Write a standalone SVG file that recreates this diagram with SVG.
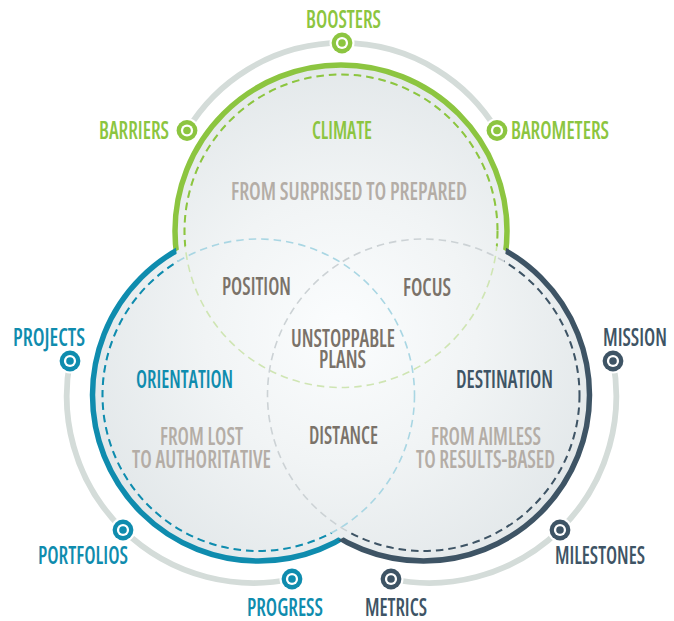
<svg xmlns="http://www.w3.org/2000/svg" xmlns:xlink="http://www.w3.org/1999/xlink" width="674" height="621" viewBox="0 0 674 621">
  <style>
    .t{font-family:"Open Sans","Liberation Sans",Arial,sans-serif;font-size:24.5px;font-weight:600;font-stretch:condensed}
    .g{fill:#8cc540}
    .b{fill:#0f8cae}
    .d{fill:#3e5465}
    .c{fill:#7a7269}
    .s{fill:#b4ada6}
    .rim{fill:none;stroke-width:5.5}
    .dash{fill:none;stroke-width:2;stroke-dasharray:7.5 5}
    .faint{fill:none;stroke-width:1.6;stroke-dasharray:7.5 5}
    .track{fill:none;stroke:#d4dcd9;stroke-width:5.8}
  </style>
  <defs>
    <radialGradient id="wash" gradientUnits="userSpaceOnUse" cx="341" cy="330" r="270">
      <stop offset="0" stop-color="#fbfdfe"/>
      <stop offset="0.5" stop-color="#f1f4f5"/>
      <stop offset="1" stop-color="#e3e8ea"/>
    </radialGradient>
    <!-- each mask keeps only the part of a ring lying outside the other two discs -->
    <mask id="only-climate" maskUnits="userSpaceOnUse" x="0" y="0" width="674" height="621">
      <rect width="674" height="621" fill="#fff"/>
      <circle cx="258.5" cy="395" r="166" fill="#000"/>
      <circle cx="423.5" cy="395" r="166" fill="#000"/>
    </mask>
    <mask id="only-orientation" maskUnits="userSpaceOnUse" x="0" y="0" width="674" height="621">
      <rect width="674" height="621" fill="#fff"/>
      <circle cx="341" cy="231" r="166" fill="#000"/>
      <circle cx="423.5" cy="395" r="166" fill="#000"/>
    </mask>
    <mask id="only-destination" maskUnits="userSpaceOnUse" x="0" y="0" width="674" height="621">
      <rect width="674" height="621" fill="#fff"/>
      <circle cx="341" cy="231" r="166" fill="#000"/>
      <circle cx="258.5" cy="395" r="166" fill="#000"/>
    </mask>
    <symbol id="pin" overflow="visible">
      <circle r="12.5" fill="#fff"/>
      <circle r="10.4" fill="currentColor"/>
      <circle r="6.1" fill="#fff"/>
      <circle r="3.8" fill="currentColor"/>
    </symbol>
  </defs>

  <!-- soft wash behind the three sets -->
  <g id="wash-fill" fill="url(#wash)">
    <circle cx="341" cy="231" r="166"/>
    <circle cx="258.5" cy="395" r="166"/>
    <circle cx="423.5" cy="395" r="166"/>
  </g>

  <!-- outer tracks linking the markers of each set -->
  <g id="connectors">
    <path class="track" d="M187 130.5 A181 181 0 0 1 497 130.5"/>
    <path class="track" d="M70 361 A187 187 0 0 0 292 579"/>
    <path class="track" d="M613 361 A187 187 0 0 1 391 579"/>
  </g>

  <!-- inner dashed rings: pale where they cross another set -->
  <g id="inner-rings">
    <circle class="faint" cx="341" cy="231" r="156.5" stroke="#cfe5b3"/>
    <circle class="faint" cx="258.5" cy="395" r="156" stroke="#a9d6e3"/>
    <circle class="faint" cx="423.5" cy="395" r="156" stroke="#ccd2d5"/>
    <circle class="dash" cx="341" cy="231" r="156.5" stroke="#8cc540" mask="url(#only-climate)"/>
    <circle class="dash" cx="258.5" cy="395" r="156" stroke="#0f8cae" mask="url(#only-orientation)"/>
    <circle class="dash" cx="423.5" cy="395" r="156" stroke="#3e5465" mask="url(#only-destination)"/>
  </g>

  <g id="climate">
    <circle class="rim" cx="341" cy="231" r="166" stroke="#8cc540" mask="url(#only-climate)"/>
    <text class="t g" x="312" y="139" textLength="60" lengthAdjust="spacingAndGlyphs">CLIMATE</text>
    <text class="t s" x="231" y="200" textLength="236" lengthAdjust="spacingAndGlyphs">FROM SURPRISED TO PREPARED</text>
  </g>

  <g id="orientation">
    <circle class="rim" cx="258.5" cy="395" r="166" stroke="#0f8cae" mask="url(#only-orientation)"/>
    <text class="t b" x="136" y="388" textLength="97" lengthAdjust="spacingAndGlyphs">ORIENTATION</text>
    <text class="t s" x="160" y="445" textLength="83" lengthAdjust="spacingAndGlyphs">FROM LOST</text>
    <text class="t s" x="132" y="468" textLength="139" lengthAdjust="spacingAndGlyphs">TO AUTHORITATIVE</text>
  </g>

  <g id="destination">
    <circle class="rim" cx="423.5" cy="395" r="166" stroke="#3e5465" mask="url(#only-destination)"/>
    <text class="t d" x="456" y="388" textLength="97" lengthAdjust="spacingAndGlyphs">DESTINATION</text>
    <text class="t s" x="431" y="445" textLength="110" lengthAdjust="spacingAndGlyphs">FROM AIMLESS</text>
    <text class="t s" x="416" y="468" textLength="139" lengthAdjust="spacingAndGlyphs">TO RESULTS-BASED</text>
  </g>

  <!-- overlap labels -->
  <g id="position"><text class="t c" x="222" y="295" textLength="69" lengthAdjust="spacingAndGlyphs">POSITION</text></g>
  <g id="focus"><text class="t c" x="403" y="296" textLength="48" lengthAdjust="spacingAndGlyphs">FOCUS</text></g>
  <g id="distance"><text class="t c" x="309" y="444" textLength="69" lengthAdjust="spacingAndGlyphs">DISTANCE</text></g>
  <g id="unstoppable-plans">
    <text class="t c" x="291" y="347" textLength="104" lengthAdjust="spacingAndGlyphs">UNSTOPPABLE</text>
    <text class="t c" x="319" y="368" textLength="47" lengthAdjust="spacingAndGlyphs">PLANS</text>
  </g>

  <!-- markers on the tracks -->
  <g id="boosters" color="#8cc540">
    <use href="#pin" x="342" y="43"/>
    <text class="t g" x="306" y="28" textLength="75" lengthAdjust="spacingAndGlyphs">BOOSTERS</text>
  </g>
  <g id="barriers" color="#8cc540">
    <use href="#pin" x="187" y="130.5"/>
    <text class="t g" x="99" y="139" textLength="70" lengthAdjust="spacingAndGlyphs">BARRIERS</text>
  </g>
  <g id="barometers" color="#8cc540">
    <use href="#pin" x="497" y="130.5"/>
    <text class="t g" x="511" y="139" textLength="98" lengthAdjust="spacingAndGlyphs">BAROMETERS</text>
  </g>
  <g id="projects" color="#0f8cae">
    <use href="#pin" x="70" y="361"/>
    <text class="t b" x="13" y="346" textLength="72" lengthAdjust="spacingAndGlyphs">PROJECTS</text>
  </g>
  <g id="portfolios" color="#0f8cae">
    <use href="#pin" x="123" y="530"/>
    <text class="t b" x="38" y="564" textLength="90" lengthAdjust="spacingAndGlyphs">PORTFOLIOS</text>
  </g>
  <g id="progress" color="#0f8cae">
    <use href="#pin" x="292" y="579"/>
    <text class="t b" x="247" y="616" textLength="76" lengthAdjust="spacingAndGlyphs">PROGRESS</text>
  </g>
  <g id="mission" color="#3e5465">
    <use href="#pin" x="613" y="361"/>
    <text class="t d" x="603" y="346" textLength="64" lengthAdjust="spacingAndGlyphs">MISSION</text>
  </g>
  <g id="milestones" color="#3e5465">
    <use href="#pin" x="560" y="530"/>
    <text class="t d" x="555" y="564" textLength="90" lengthAdjust="spacingAndGlyphs">MILESTONES</text>
  </g>
  <g id="metrics" color="#3e5465">
    <use href="#pin" x="391" y="579"/>
    <text class="t d" x="365" y="616" textLength="62" lengthAdjust="spacingAndGlyphs">METRICS</text>
  </g>
</svg>
